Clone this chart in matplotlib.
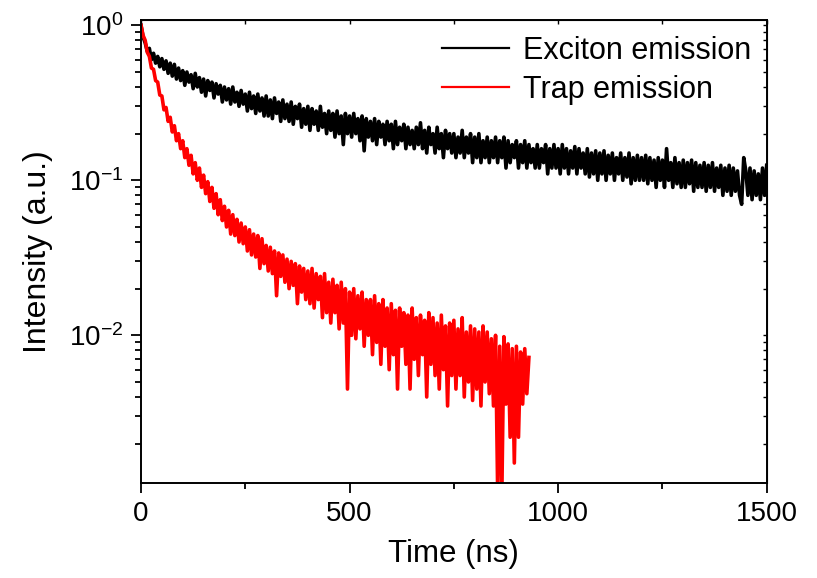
"""Time-resolved PL decay: exciton vs trap emission (log intensity)."""

import numpy as np
import matplotlib

matplotlib.use("Agg")
import matplotlib.pyplot as plt

plt.rcParams["font.family"] = ["Liberation Sans", "DejaVu Sans"]

# time axis, 5 ns per point
step_ns = 5

exciton = [
    1.00, 0.84, 0.77, 0.68, 0.71, 0.60, 0.66, 0.57, 0.63, 0.54,
    0.61, 0.52, 0.59, 0.49, 0.57, 0.47, 0.56, 0.45, 0.53, 0.44,
    0.51, 0.41, 0.50, 0.43, 0.48, 0.39, 0.49, 0.40, 0.46, 0.37,
    0.45, 0.35, 0.44, 0.38, 0.43, 0.34, 0.42, 0.36, 0.41, 0.32,
    0.40, 0.33, 0.39, 0.31, 0.40, 0.32, 0.37, 0.30, 0.38, 0.31,
    0.36, 0.28, 0.37, 0.29, 0.35, 0.27, 0.36, 0.28, 0.34, 0.26,
    0.35, 0.26, 0.33, 0.25, 0.34, 0.27, 0.32, 0.24, 0.33, 0.25,
    0.31, 0.24, 0.32, 0.23, 0.30, 0.25, 0.31, 0.22, 0.29, 0.23,
    0.30, 0.21, 0.29, 0.23, 0.28, 0.21, 0.30, 0.22, 0.27, 0.20,
    0.28, 0.21, 0.27, 0.19, 0.28, 0.20, 0.26, 0.17, 0.27, 0.20,
    0.26, 0.19, 0.27, 0.20, 0.25, 0.18, 0.26, 0.155, 0.25, 0.19,
    0.24, 0.18, 0.25, 0.17, 0.24, 0.19, 0.23, 0.17, 0.24, 0.18,
    0.23, 0.16, 0.24, 0.17, 0.22, 0.18, 0.23, 0.16, 0.22, 0.17,
    0.21, 0.16, 0.22, 0.17, 0.235, 0.16, 0.21, 0.15, 0.22, 0.17,
    0.20, 0.15, 0.22, 0.16, 0.20, 0.14, 0.21, 0.16, 0.20, 0.15,
    0.20, 0.14, 0.19, 0.15, 0.21, 0.14, 0.19, 0.15, 0.20, 0.13,
    0.19, 0.14, 0.20, 0.13, 0.18, 0.14, 0.19, 0.13, 0.18, 0.14,
    0.19, 0.13, 0.18, 0.14, 0.19, 0.12, 0.18, 0.13, 0.17, 0.14,
    0.18, 0.12, 0.17, 0.13, 0.18, 0.12, 0.17, 0.13, 0.16, 0.12,
    0.17, 0.12, 0.16, 0.13, 0.17, 0.11, 0.16, 0.12, 0.17, 0.12,
    0.16, 0.11, 0.17, 0.12, 0.16, 0.11, 0.155, 0.12, 0.165, 0.11,
    0.16, 0.12, 0.15, 0.11, 0.16, 0.105, 0.15, 0.11, 0.155, 0.10,
    0.15, 0.11, 0.155, 0.10, 0.145, 0.11, 0.15, 0.10, 0.14, 0.11,
    0.15, 0.10, 0.14, 0.105, 0.15, 0.095, 0.14, 0.10, 0.145, 0.10,
    0.14, 0.10, 0.145, 0.095, 0.14, 0.10, 0.135, 0.09, 0.14, 0.10,
    0.135, 0.09, 0.16, 0.10, 0.13, 0.09, 0.14, 0.095, 0.13, 0.09,
    0.135, 0.09, 0.13, 0.095, 0.135, 0.085, 0.13, 0.09, 0.125, 0.09,
    0.13, 0.085, 0.125, 0.09, 0.13, 0.085, 0.12, 0.09, 0.125, 0.08,
    0.12, 0.085, 0.125, 0.08, 0.12, 0.085, 0.115, 0.08, 0.07, 0.14,
    0.115, 0.08, 0.12, 0.075, 0.115, 0.08, 0.11, 0.075, 0.12, 0.08,
    0.125,
]

trap = [
    1.00, 0.86, 0.80, 0.67, 0.63, 0.53, 0.52, 0.44, 0.43, 0.355,
    0.35, 0.285, 0.295, 0.24, 0.255, 0.205, 0.225, 0.18, 0.20, 0.16,
    0.18, 0.14, 0.16, 0.125, 0.145, 0.11, 0.13, 0.10, 0.12, 0.09,
    0.108, 0.082, 0.098, 0.073, 0.09, 0.066, 0.082, 0.06, 0.075, 0.055,
    0.068, 0.05, 0.064, 0.045, 0.06, 0.044, 0.056, 0.04, 0.053, 0.039,
    0.05, 0.035, 0.048, 0.033, 0.045, 0.032, 0.044, 0.027, 0.042, 0.029,
    0.038, 0.026, 0.037, 0.025, 0.035, 0.018, 0.034, 0.024, 0.033, 0.022,
    0.031, 0.02, 0.03, 0.021, 0.029, 0.016, 0.028, 0.019, 0.027, 0.017,
    0.026, 0.016, 0.027, 0.015, 0.025, 0.017, 0.024, 0.013, 0.025, 0.014,
    0.022, 0.012, 0.023, 0.014, 0.021, 0.011, 0.022, 0.012, 0.02, 0.0045,
    0.019, 0.01, 0.02, 0.0095, 0.018, 0.011, 0.019, 0.0085, 0.017, 0.01,
    0.017, 0.0075, 0.018, 0.009, 0.016, 0.0065, 0.017, 0.0085, 0.015, 0.006,
    0.016, 0.0075, 0.0145, 0.0045, 0.015, 0.0085, 0.014, 0.0065, 0.0135, 0.0045,
    0.015, 0.007, 0.013, 0.0055, 0.0135, 0.0075, 0.0125, 0.004, 0.014, 0.0065,
    0.013, 0.0055, 0.012, 0.0045, 0.0135, 0.006, 0.0115, 0.0035, 0.012, 0.0055,
    0.0125, 0.0045, 0.011, 0.0055, 0.013, 0.004, 0.0105, 0.005, 0.0115, 0.0038,
    0.011, 0.0045, 0.0105, 0.0035, 0.0115, 0.005, 0.0105, 0.0042, 0.0095, 0.0035,
    0.01, 0.001, 0.0085, 0.0009, 0.0098, 0.0036, 0.0088, 0.0022, 0.0082, 0.0015,
    0.0085, 0.0022, 0.0078, 0.0036, 0.0082, 0.0042, 0.0072,
]

labels = ["Exciton emission", "Trap emission"]
x_ticks = [0, 500, 1000, 1500]
y_ticks = [1e-2, 1e-1, 1e0]
y_ticklabels = [r"$\mathregular{10^{-2}}$", r"$\mathregular{10^{-1}}$", r"$\mathregular{10^{0}}$"]

t_exc = np.arange(len(exciton)) * step_ns
t_trap = np.arange(len(trap)) * step_ns

fig = plt.figure(figsize=(8.17, 5.78), dpi=100)
ax = fig.add_axes([0.1726, 0.1649, 0.7658, 0.8005])

ax.plot(t_exc, exciton, color="black", lw=2.6, label=labels[0])
ax.plot(t_trap, trap, color="red", lw=2.6, label=labels[1])

ax.set_yscale("log")
ax.set_xlim(0, 1500)
ax.set_ylim(0.00112, 1.082)

ax.set_xticks(x_ticks)
ax.set_xticks([250, 750, 1250], minor=True)
ax.set_yticks(y_ticks)
ax.set_yticklabels(y_ticklabels)

ax.tick_params(which="major", direction="out", length=7, width=1.3, labelsize=20, pad=6)
ax.tick_params(which="minor", direction="out", length=4, width=1.3)
for sp in ax.spines.values():
    sp.set_linewidth(1.4)

# mirrored short inward ticks on top and right
top = ax.secondary_xaxis("top")
top.set_xticks(x_ticks)
top.set_xticks([250, 750, 1250], minor=True)
top.tick_params(which="both", direction="in", length=3, width=1.0, labeltop=False)
right = ax.secondary_yaxis("right")
right.tick_params(which="both", direction="in", length=3, width=1.0, labelright=False)

ax.set_xlabel("Time (ns)", fontsize=22.5, labelpad=9)
ax.set_ylabel("Intensity (a.u.)", fontsize=23, labelpad=11)

leg = ax.legend(loc="upper right", bbox_to_anchor=(1.005, 1.005), frameon=False, fontsize=22,
                handlelength=2.2, handletextpad=0.45, labelspacing=0.3, borderaxespad=0.2)
for line in leg.get_lines():
    line.set_linewidth(1.6)

fig.savefig("out.png", dpi=100)
